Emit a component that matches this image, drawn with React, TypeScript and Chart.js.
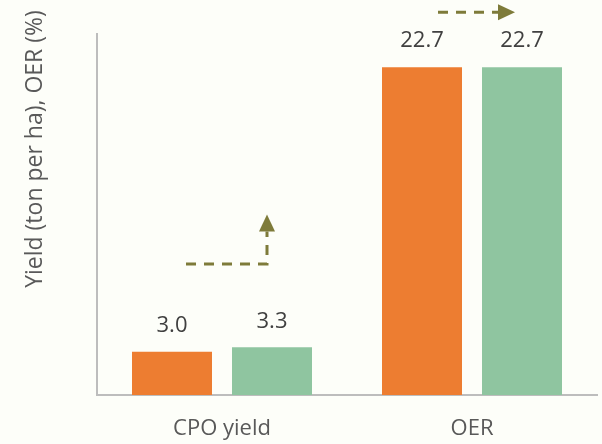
import { useEffect, useRef } from "react";
import { Chart, registerables } from "chart.js";

Chart.register(...registerables);

const categories = ["CPO yield", "OER"];
const seriesBefore = [3.0, 22.7];
const seriesAfter = [3.3, 22.7];
const seriesNames = ["Before", "After"];
const yTitle = "Yield (ton per ha), OER (%)";
const yMin = 0;
const yMax = 25;
// dashed arrow annotations, in (category index, value) units
const arrowUp = [
  [-0.144, 9.07],
  [0.18, 9.07],
  [0.18, 12.5],
];
const arrowRight = [
  [0.864, 26.5],
  [1.172, 26.5],
];

const FONT = "'Open Sans', 'DejaVu Sans', sans-serif";
const ORANGE = "#ED7D31";
const GREEN = "#8FC5A0";
const OLIVE = "#7E7B3A";

const overlayPlugin = {
  id: "overlay",
  afterDatasetsDraw(chart: any) {
    const ctx = chart.ctx;
    ctx.save();
    ctx.fillStyle = "#404040";
    ctx.font = `22px ${FONT}`;
    ctx.textAlign = "center";
    ctx.textBaseline = "middle";
    chart.data.datasets.forEach((ds: any, i: number) => {
      const meta = chart.getDatasetMeta(i);
      meta.data.forEach((bar: any, j: number) => {
        ctx.fillText(Number(ds.data[j]).toFixed(1), bar.x, bar.y - 26);
      });
    });
    ctx.restore();
  },
  afterDraw(chart: any) {
    const ctx = chart.ctx;
    const xs = chart.scales.x;
    const ys = chart.scales.y;
    const drawArrow = (pts: number[][]) => {
      const p = pts.map(([cx, v]) => [xs.getPixelForValue(cx), ys.getPixelForValue(v)]);
      const tip = p[p.length - 1];
      const prev = p[p.length - 2];
      const dx = tip[0] - prev[0];
      const dy = tip[1] - prev[1];
      const len = Math.hypot(dx, dy);
      const ux = dx / len;
      const uy = dy / len;
      const headLen = 17;
      const headHalf = 8;
      const base = [tip[0] - ux * headLen, tip[1] - uy * headLen];
      ctx.save();
      ctx.strokeStyle = OLIVE;
      ctx.fillStyle = OLIVE;
      ctx.lineWidth = 3;
      ctx.setLineDash([10, 8]);
      ctx.beginPath();
      ctx.moveTo(p[0][0], p[0][1]);
      for (let k = 1; k < p.length - 1; k++) ctx.lineTo(p[k][0], p[k][1]);
      ctx.lineTo(base[0], base[1]);
      ctx.stroke();
      ctx.setLineDash([]);
      ctx.beginPath();
      ctx.moveTo(tip[0], tip[1]);
      ctx.lineTo(base[0] - uy * headHalf, base[1] + ux * headHalf);
      ctx.lineTo(base[0] + uy * headHalf, base[1] - ux * headHalf);
      ctx.closePath();
      ctx.fill();
      ctx.restore();
    };
    drawArrow(arrowUp);
    drawArrow(arrowRight);

    // y axis title
    const area = chart.chartArea;
    ctx.save();
    ctx.fillStyle = "#595959";
    ctx.font = `23px ${FONT}`;
    ctx.textAlign = "center";
    ctx.textBaseline = "alphabetic";
    ctx.translate(area.left - 55, area.top + 115);
    ctx.rotate(-Math.PI / 2);
    ctx.fillText(yTitle, 0, 0);
    ctx.restore();
  },
};

export default function App() {
  const ref = useRef<HTMLCanvasElement | null>(null);
  useEffect(() => {
    document.body.style.margin = "0";
    document.body.style.background = "#FDFEF9";
    const canvas = ref.current;
    if (!canvas) return;
    const chart = new Chart(canvas, {
      type: "bar",
      data: {
        labels: categories,
        datasets: [
          {
            label: seriesNames[0],
            data: seriesBefore,
            backgroundColor: ORANGE,
            categoryPercentage: 0.8,
            barPercentage: 0.8,
          },
          {
            label: seriesNames[1],
            data: seriesAfter,
            backgroundColor: GREEN,
            categoryPercentage: 0.8,
            barPercentage: 0.8,
          },
        ],
      },
      options: {
        animation: false,
        responsive: false,
        maintainAspectRatio: false,
        layout: { padding: { left: 97, right: 5, top: 34, bottom: 1 } },
        plugins: {
          legend: { display: false },
          tooltip: { enabled: false },
        },
        scales: {
          x: {
            grid: { display: false, drawTicks: false },
            border: { display: true, color: "#BDBDBD", width: 2 },
            ticks: {
              color: "#595959",
              font: { family: FONT, size: 22 },
              padding: 21,
            },
            afterFit(scale: any) {
              scale.height = 48;
            },
          },
          y: {
            min: yMin,
            max: yMax,
            grid: { display: false, drawTicks: false },
            border: { display: true, color: "#BDBDBD", width: 2 },
            ticks: { display: false },
          },
        },
      },
      plugins: [overlayPlugin],
    });
    return () => chart.destroy();
  }, []);
  return (
    <div style={{ width: 602, height: 444 }}>
      <canvas ref={ref} width={602} height={444} style={{ display: "block" }} />
    </div>
  );
}
